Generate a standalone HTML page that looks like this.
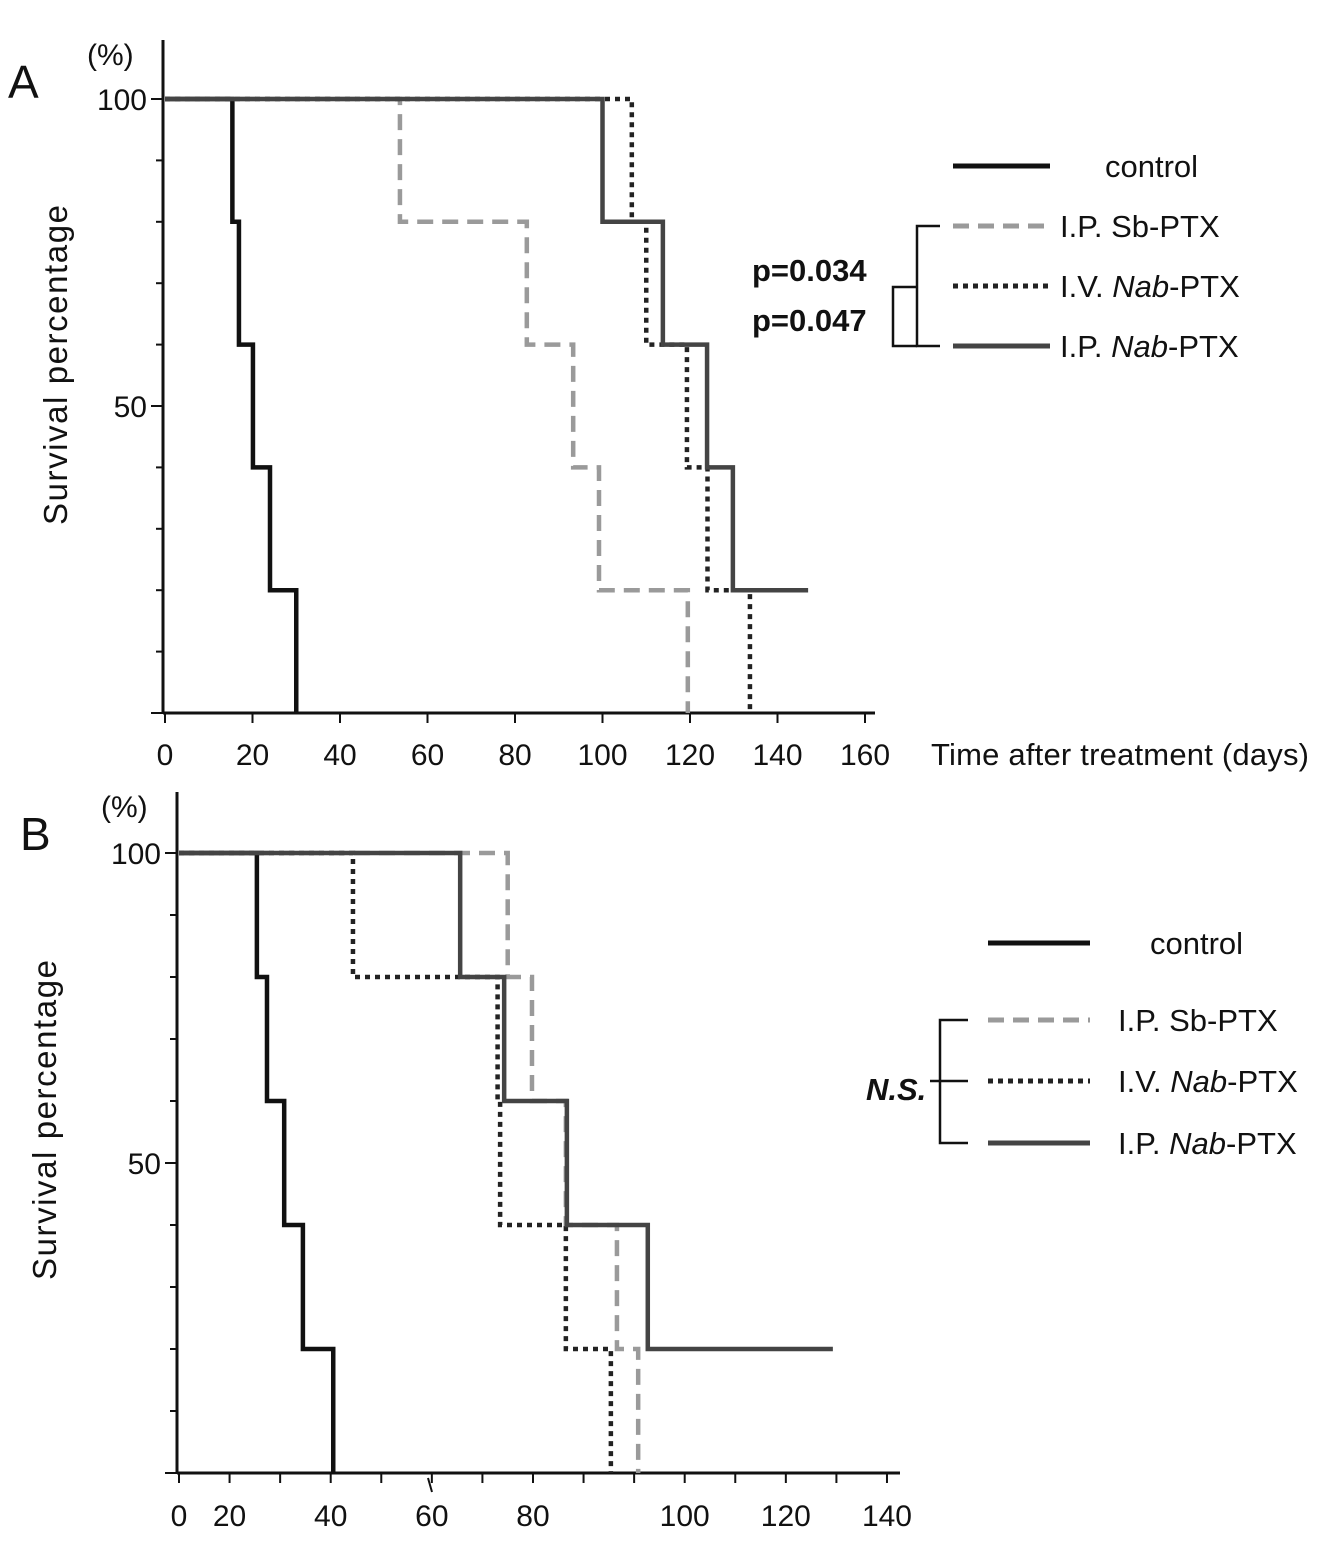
<!DOCTYPE html>
<html><head><meta charset="utf-8"><style>
html,body{margin:0;padding:0;background:#fff;}
svg text{font-family:"Liberation Sans",Arial,sans-serif;fill:#111;}
</style></head><body>
<svg id="chart" width="1323" height="1538" viewBox="0 0 1323 1538" xmlns="http://www.w3.org/2000/svg"></svg>
<script>
// ---- Panel A data ----
const aControl = [[0,100],[15.4,80],[16.9,60],[20.1,40],[24,20],[30,0]];
const aSbIP = [[0,100],[53.7,80],[82.7,60],[93.3,40],[99.2,20],[119.5,0]];
const aNabIV = [[0,100],[106.7,80],[110,60],[119.3,40],[124,20],[133.7,0]];
const aNabIP = [[0,100],[100,80],[113.8,60],[123.9,40],[129.8,20]];
const aNabIPEnd = 147;
const aXTicks = [0,20,40,60,80,100,120,140,160];
// ---- Panel B data ----
const bControl = [[0,100],[15.4,80],[17.4,60],[20.8,40],[24.5,20],[30.5,0]];
const bSbIP = [[0,100],[65,80],[69.8,60],[76.5,40],[86.6,20],[90.8,0]];
const bNabIV = [[0,100],[34.4,80],[63,60],[63.5,40],[76.5,20],[85.4,0]];
const bNabIP = [[0,100],[55.6,80],[64.3,60],[76.7,40],[92.7,20]];
const bNabIPEnd = 129.3;
const bXLabelAt = [0,10,30,50,70,100,120,140];
const bXLabels = ["0","20","40","60","80","100","120","140"];
const yTicks = [0,10,20,30,40,50,60,70,80,90,100];

const svg=document.getElementById('chart');
const NS='http://www.w3.org/2000/svg';
function mk(tag,attrs,txt){const e=document.createElementNS(NS,tag);for(const k in attrs)e.setAttribute(k,attrs[k]);if(txt!==undefined)e.textContent=txt;svg.appendChild(e);return e;}

const styles={
 control:{stroke:'#111',dash:'none',w:4.5},
 sb:{stroke:'#9a9a9a',dash:'16,9',w:4.5},
 iv:{stroke:'#222',dash:'5,5',w:4.5},
 ip:{stroke:'#444',dash:'none',w:4.5}
};
function stepPath(pts,end,sx,sy){
 let d='M'+sx(pts[0][0])+','+sy(pts[0][1]);
 for(let i=1;i<pts.length;i++){d+=' H'+sx(pts[i][0])+' V'+sy(pts[i][1]);}
 if(end!==undefined)d+=' H'+sx(end);
 return d;
}
function panel(cfg){
 const sx=d=>cfg.x0+d*cfg.kx, sy=p=>cfg.y0-p*cfg.ky;
 mk('line',{x1:cfg.x0-2,y1:cfg.yTop,x2:cfg.x0-2,y2:cfg.y0,stroke:'#111','stroke-width':3,});
 mk('line',{x1:cfg.x0-2,y1:cfg.y0,x2:cfg.xEnd,y2:cfg.y0,stroke:'#111','stroke-width':3,});
 yTicks.forEach(t=>{const big=t%50===0;mk('line',{x1:cfg.x0-2-(big?12:7),y1:sy(t),x2:cfg.x0-2,y2:sy(t),stroke:'#111','stroke-width':2,});});
 mk('text',{x:cfg.x0-18,y:sy(100)+11,'font-size':30,'text-anchor':'end',},'100');
 mk('text',{x:cfg.x0-18,y:sy(50)+11,'font-size':30,'text-anchor':'end',},'50');
 mk('text',{x:cfg.x0-78,y:cfg.yTop+25,'font-size':30,},'(%)');
 mk('text',{x:cfg.panelLX,y:cfg.panelLY,'font-size':46,},cfg.label);
 mk('text',{x:0,y:0,'font-size':33,'text-anchor':'middle','textLength':320,transform:`translate(${cfg.yTitleX},${cfg.yTitleY}) rotate(-90)`,},'Survival percentage');
 cfg.series.forEach(s=>{const st=styles[s.k];mk('path',{d:stepPath(s.pts,s.end,sx,sy),fill:'none',stroke:st.stroke,'stroke-width':st.w,'stroke-dasharray':st.dash,});});
}
// Panel A
panel({id:'a',label:'A',x0:165,kx:4.375,y0:713,ky:6.14,yTop:40,xEnd:875,panelLX:8,panelLY:98,yTitleX:67,yTitleY:365,
 series:[{k:'sb',pts:aSbIP},{k:'iv',pts:aNabIV},{k:'control',pts:aControl},{k:'ip',pts:aNabIP,end:aNabIPEnd}]});
aXTicks.forEach(t=>{const x=165+t*4.375;
 mk('line',{x1:x,y1:713,x2:x,y2:723,stroke:'#111','stroke-width':2,});
 mk('text',{x:x,y:765,'font-size':30,'text-anchor':'middle',},String(t));});
mk('text',{x:931,y:765,'font-size':31,'textLength':378,},'Time after treatment  (days)');
// Panel B
panel({id:'b',label:'B',x0:179,kx:5.057,y0:1473,ky:6.2,yTop:792,xEnd:900,panelLX:20,panelLY:850,yTitleX:56,yTitleY:1120,
 series:[{k:'sb',pts:bSbIP},{k:'iv',pts:bNabIV},{k:'control',pts:bControl},{k:'ip',pts:bNabIP,end:bNabIPEnd}]});
for(let t=0;t<=140;t+=10){const x=179+t*5.057;
 mk('line',{x1:x,y1:1473,x2:x,y2:1483,stroke:'#111','stroke-width':2,});}
bXLabelAt.forEach((t,i)=>{mk('text',{x:179+t*5.057,y:1526,'font-size':30,'text-anchor':'middle',},bXLabels[i]);});
mk('line',{x1:428,y1:1478,x2:432,y2:1492,stroke:'#111','stroke-width':2,});

function legend(id,lx1,lx2,ys,tx,ctx){
 const keys=['control','sb','iv','ip'];
 keys.forEach((k,i)=>{const st=styles[k];
  mk('line',{x1:lx1,y1:ys[i],x2:lx2,y2:ys[i],stroke:st.stroke,'stroke-width':5,'stroke-dasharray':st.dash,});});
 mk('text',{x:ctx,y:ys[0]+11,'font-size':31,},'control');
 mk('text',{x:tx,y:ys[1]+11,'font-size':31,},'I.P. Sb-PTX');
 const t2=mk('text',{x:tx,y:ys[2]+11,'font-size':31,});
 t2.innerHTML='I.V. <tspan font-style="italic">Nab</tspan>-PTX';
 const t3=mk('text',{x:tx,y:ys[3]+11,'font-size':31,});
 t3.innerHTML='I.P. <tspan font-style="italic">Nab</tspan>-PTX';
}
legend('a',953,1050,[166,226,286,346],1060,1105);
legend('b',988,1090,[943,1020,1081,1143],1118,1150);
// brackets A
mk('path',{d:'M940,226 H917 V346 H940',fill:'none',stroke:'#111','stroke-width':2.5,});
mk('path',{d:'M917,287 H893 V346 H917',fill:'none',stroke:'#111','stroke-width':2.5,});
mk('text',{x:752,y:281,'font-size':31,'font-weight':'bold',},'p=0.034');
mk('text',{x:752,y:331,'font-size':31,'font-weight':'bold',},'p=0.047');
// bracket B
mk('path',{d:'M968,1020 H940 V1143 H968 M940,1081 H968',fill:'none',stroke:'#111','stroke-width':2.5,});
mk('line',{x1:930,y1:1081,x2:940,y2:1081,stroke:'#111','stroke-width':2.5,});
mk('text',{x:866,y:1100,'font-size':31,'font-weight':'bold','font-style':'italic',},'N.S.');
</script>
</body></html>
